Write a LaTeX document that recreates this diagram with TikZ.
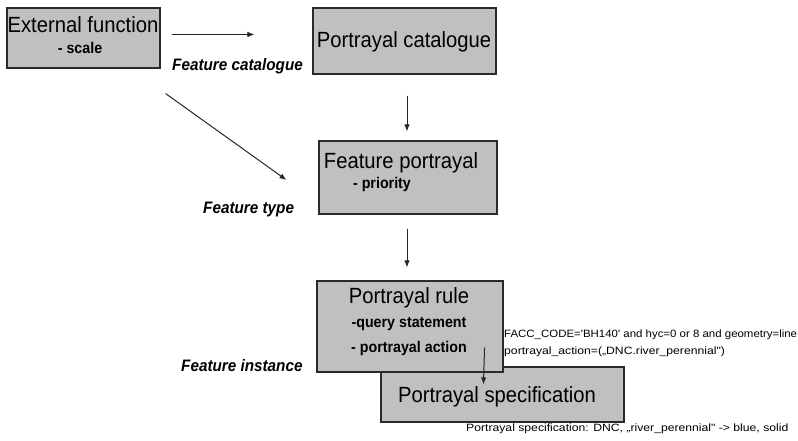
\documentclass[tikz,border=0pt]{standalone}
\usepackage{fontspec}
\setmainfont{Liberation Sans}
\newfontfamily\tf[FakeStretch=0.92]{Liberation Sans}
\newfontfamily\af[FakeStretch=1.15]{Liberation Sans}
\newfontfamily\afn[FakeStretch=1.08]{Liberation Sans}
\usetikzlibrary{arrows.meta,calc}
\definecolor{boxgray}{HTML}{C0C0C0}
\definecolor{boxline}{HTML}{2A2A2A}
\tikzset{
  box/.style={draw=boxline, fill=boxgray, line width=1.1pt, inner sep=0pt},
  ttl/.style={anchor=base, inner sep=0pt, font=\tf\fontsize{22}{24}\selectfont},
  sub/.style={anchor=base, inner sep=0pt, font=\tf\bfseries\fontsize{15.5}{17}\selectfont},
  lbl/.style={anchor=base west, inner sep=0pt, font=\tf\bfseries\itshape\fontsize{16.6}{18}\selectfont},
  ann/.style={anchor=base west, inner sep=0pt, font=\af\fontsize{10.6}{12}\selectfont},
  annn/.style={anchor=base west, inner sep=0pt, font=\afn\fontsize{10.6}{12}\selectfont},
  arr/.style={-{Latex[length=7pt,width=5.5pt]}, line width=1pt, draw=black!85}
}
\begin{document}
\begin{tikzpicture}[x=1pt,y=-1pt]
\useasboundingbox (0,0) rectangle (798,440);
% boxes
\node[box, minimum width=153pt, minimum height=60pt] (ef) at (83.5,38) {};
\node[box, minimum width=183pt, minimum height=66pt] (pc) at (404.5,41) {};
\node[box, minimum width=178pt, minimum height=73pt] (fp) at (408,177.5) {};
\node[box, minimum width=243pt, minimum height=55pt] (ps) at (502.5,394.5) {};
\node[box, minimum width=186pt, minimum height=91pt] (pr) at (410,326.5) {};
% box texts
\node[ttl] (t1) at (83,32) {External function};
\node[sub] (s1) at (80,53) {- scale};
\node[ttl] (t2) at (404,47) {Portrayal catalogue};
\node[ttl] (t3) at (401,168) {Feature portrayal};
\node[sub] (s3) at (382,188) {- priority};
\node[ttl] (t4) at (409,303) {Portrayal rule};
\node[sub] (s4a) at (409,327) {-query statement};
\node[sub] (s4b) at (409,352) {- portrayal action};
\node[ttl] (t5) at (497,402) {Portrayal specification};
% labels
\node[lbl] (l1) at (172,70) {Feature catalogue};
\node[lbl] (l2) at (203,213) {Feature type};
\node[lbl] (l3) at (181,371) {Feature instance};
% annotations
\node[annn] (a1) at (504,337) {FACC\_CODE='BH140' and hyc=0 or 8 and geometry=line};
\node[ann] (a2) at (504,354) {portrayal\_action=(„DNC.river\_perennial")};
\node[ann] (a3) at (466,431) {Portrayal specification: DNC, „river\_perennial" -> blue, solid};
% arrows
\draw[arr] ($(ef.north east)+(11,27)$) -- ($(pc.north west)+(-58,27)$);
\draw[arr] ($(ef.south east)+(5,25)$) -- ($(fp.west)+(-32,2.5)$);
\draw[arr] ($(pc.south)+(2.5,21)$) -- ($(fp.north)+(-1,-9)$);
\draw[arr] ($(fp.south)+(-1,14)$) -- ($(pr.north)+(-3,-13)$);
\draw[arr] ($(pr.south east)+(-19,-25)$) -- ($(ps.north west)+(103,18)$);
\end{tikzpicture}
\end{document}
